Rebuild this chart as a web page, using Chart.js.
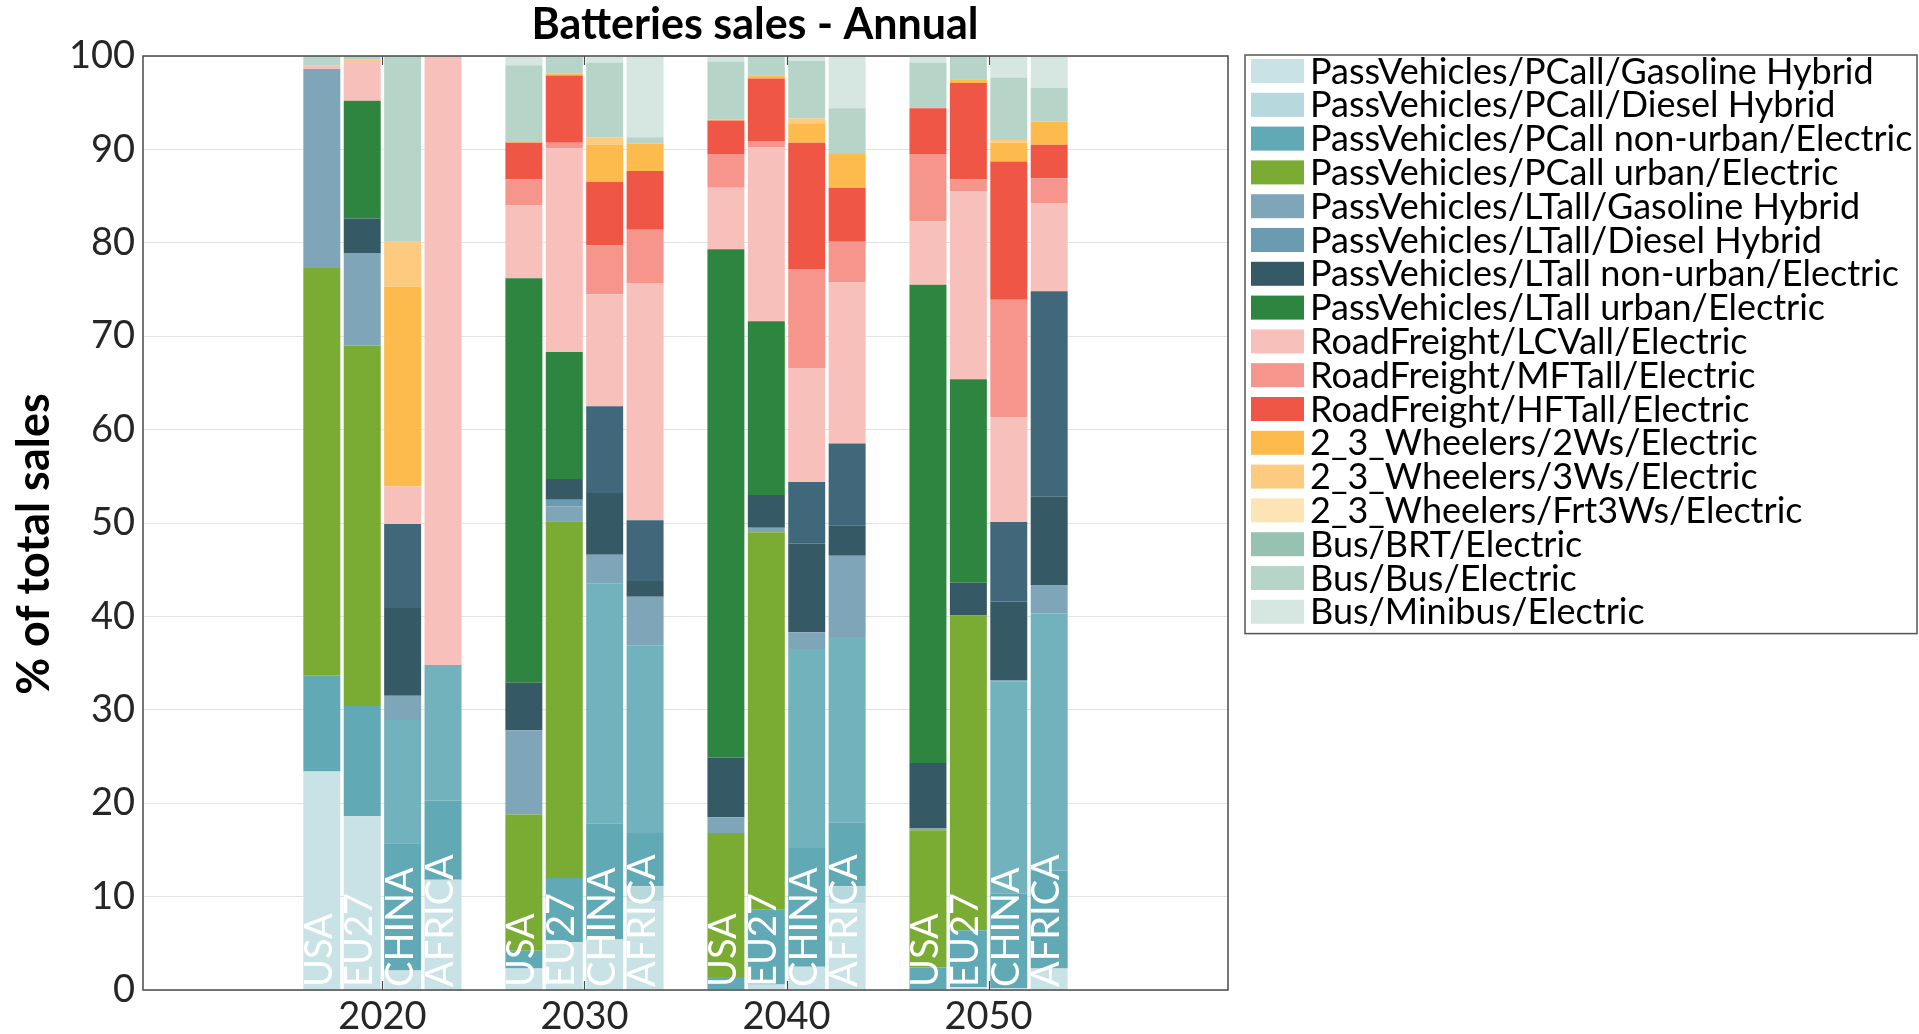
<!DOCTYPE html>
<html>
<head>
<meta charset="utf-8">
<title>Batteries sales - Annual</title>
<script src="https://cdn.jsdelivr.net/npm/chart.js@4.4.1/dist/chart.umd.min.js"></script>
<style>
  html, body { margin: 0; padding: 0; background: #fff; }
  canvas { display: block; }
</style>
</head>
<body>
<canvas id="chart" width="1919" height="1034"></canvas>
<script>
// bars are ordered year by year, region by region
const years = [2020, 2030, 2040, 2050];
const regions = ['USA', 'EU27', 'CHINA', 'AFRICA'];

// share of total battery sales (%), one value per bar
const pcGasolineHybrid = [23.4, 18.6, 2.1, 11.8, 2.3, 5.1, 5.4, 9.5, 0, 0.6, 2.5, 9.3, 0, 0.3, 0.2, 2.3];
const pcDieselHybrid   = [0, 0, 0, 0, 0, 0, 0, 1.6, 0, 0, 0, 1.8, 0, 0, 0, 0];
const pcNonUrbanElec   = [10.3, 11.8, 13.6, 8.5, 1.9, 6.9, 12.4, 5.7, 1.4, 8.0, 12.7, 6.8, 2.4, 6.1, 10.1, 10.5];
const pcOther          = [0, 0, 13.2, 14.5, 0, 0, 25.7, 20.1, 0, 0, 21.3, 19.9, 0, 0, 22.7, 27.5];
const pcUrbanElec      = [43.6, 38.6, 0, 0, 14.6, 38.2, 0, 0, 15.4, 40.4, 0, 0, 14.7, 33.7, 0, 0];
const ltGasolineHybrid = [21.3, 9.9, 2.6, 0, 9.0, 1.6, 3.1, 5.2, 1.7, 0.5, 1.8, 8.7, 0.2, 0, 0.2, 3.0];
const ltDieselHybrid   = [0, 0, 0, 0, 0, 0.7, 0, 0, 0, 0, 0, 0, 0, 0, 0, 0];
const ltNonUrbanElec   = [0, 3.7, 9.4, 0, 5.1, 2.2, 6.6, 1.7, 6.4, 3.5, 9.5, 3.2, 7.0, 3.5, 8.4, 9.5];
const ltOther          = [0, 0, 9.0, 0, 0, 0, 9.3, 6.5, 0, 0, 6.6, 8.8, 0, 0, 8.5, 22.0];
const ltUrbanElec      = [0, 12.6, 0, 0, 43.3, 13.6, 0, 0, 54.4, 18.6, 0, 0, 51.2, 21.8, 0, 0];
const lcvElec          = [0.4, 4.3, 4.0, 65.2, 7.8, 21.8, 12.0, 25.4, 6.6, 18.6, 12.2, 17.3, 6.8, 20.1, 11.2, 9.4];
const mftElec          = [0, 0, 0, 0, 2.8, 0.6, 5.2, 5.7, 3.6, 0.7, 10.6, 4.3, 7.2, 1.3, 12.6, 2.7];
const hftElec          = [0, 0, 0, 0, 3.9, 7.2, 6.8, 6.3, 3.6, 6.7, 13.5, 5.8, 4.9, 10.3, 14.8, 3.6];
const twoWheelElec     = [0, 0.1, 21.4, 0, 0.1, 0.2, 4.0, 2.9, 0.1, 0.3, 2.1, 3.6, 0.1, 0.4, 2.0, 2.5];
const threeWheelElec   = [0, 0, 4.9, 0, 0, 0, 0.8, 0, 0, 0, 0.5, 0, 0, 0, 0.3, 0];
const frt3WheelElec    = [0, 0, 0, 0, 0, 0, 0, 0, 0, 0, 0, 0, 0, 0, 0, 0];
const brtElec          = [0, 0, 0, 0, 0, 0, 0, 0, 0, 0, 0, 0, 0, 0, 0, 0];
const busElec          = [1.0, 0.4, 19.8, 0, 8.2, 1.9, 8.0, 0.7, 6.2, 2.1, 6.2, 4.9, 4.8, 2.5, 6.7, 3.6];
const minibusElec      = [0, 0, 0, 0, 1.0, 0, 0.7, 8.7, 0.6, 0, 0.5, 5.6, 0.7, 0, 2.3, 3.4];

const yTicks = [0, 10, 20, 30, 40, 50, 60, 70, 80, 90, 100];

// stack order, bottom to top
const series = [
  { label: 'PassVehicles/PCall/Gasoline Hybrid', color: '#c9e2e6', values: pcGasolineHybrid, legend: true },
  { label: 'PassVehicles/PCall/Diesel Hybrid', color: '#b7d8dd', values: pcDieselHybrid, legend: true },
  { label: 'PassVehicles/PCall non-urban/Electric', color: '#62a9b6', values: pcNonUrbanElec, legend: true },
  { label: 'PassVehicles/PCall/Other', color: '#72b2bc', values: pcOther, legend: false },
  { label: 'PassVehicles/PCall urban/Electric', color: '#7aab33', values: pcUrbanElec, legend: true },
  { label: 'PassVehicles/LTall/Gasoline Hybrid', color: '#7fa6b8', values: ltGasolineHybrid, legend: true },
  { label: 'PassVehicles/LTall/Diesel Hybrid', color: '#6b9bb0', values: ltDieselHybrid, legend: true },
  { label: 'PassVehicles/LTall non-urban/Electric', color: '#355a66', values: ltNonUrbanElec, legend: true },
  { label: 'PassVehicles/LTall/Other', color: '#41687a', values: ltOther, legend: false },
  { label: 'PassVehicles/LTall urban/Electric', color: '#2e853f', values: ltUrbanElec, legend: true },
  { label: 'RoadFreight/LCVall/Electric', color: '#f8c0ba', values: lcvElec, legend: true },
  { label: 'RoadFreight/MFTall/Electric', color: '#f6958b', values: mftElec, legend: true },
  { label: 'RoadFreight/HFTall/Electric', color: '#f05645', values: hftElec, legend: true },
  { label: '2_3_Wheelers/2Ws/Electric', color: '#fdbb4d', values: twoWheelElec, legend: true },
  { label: '2_3_Wheelers/3Ws/Electric', color: '#fccb80', values: threeWheelElec, legend: true },
  { label: '2_3_Wheelers/Frt3Ws/Electric', color: '#fde4b5', values: frt3WheelElec, legend: true },
  { label: 'Bus/BRT/Electric', color: '#97c1b0', values: brtElec, legend: true },
  { label: 'Bus/Bus/Electric', color: '#b7d4c8', values: busElec, legend: true },
  { label: 'Bus/Minibus/Electric', color: '#d6e7e2', values: minibusElec, legend: true }
];

// x position of each bar: four regions side by side around the year, 2 years apart
const barX = [];
const barRegion = [];
years.forEach(y => regions.forEach((r, j) => {
  barX.push(y + (j - 1.5) * 2);
  barRegion.push(r);
}));

const tickFont = { family: 'Lato', size: 38 };
const tickColor = '#262626';

// plot frame and inward x tick marks
const frame = {
  id: 'frame',
  afterDatasetsDraw(chart) {
    const { ctx, chartArea: a, scales: { x } } = chart;
    ctx.save();
    ctx.strokeStyle = '#4a4a4a';
    ctx.lineWidth = 1.5;
    ctx.strokeRect(a.left, a.top, a.right - a.left, a.bottom - a.top);
    ctx.lineWidth = 1.2;
    ctx.beginPath();
    years.forEach(v => {
      const px = Math.round(x.getPixelForValue(v)) + 0.5;
      ctx.moveTo(px, a.top); ctx.lineTo(px, a.top + 9);
      ctx.moveTo(px, a.bottom); ctx.lineTo(px, a.bottom - 9);
    });
    ctx.stroke();
    ctx.restore();
  }
};

// region names written upward at the foot of each bar
const regionLabels = {
  id: 'regionLabels',
  afterDatasetsDraw(chart) {
    const { ctx, chartArea: a, scales: { x } } = chart;
    ctx.save();
    ctx.fillStyle = '#ffffff';
    ctx.font = '38px Lato';
    ctx.textAlign = 'left';
    ctx.textBaseline = 'alphabetic';
    barX.forEach((v, i) => {
      ctx.save();
      ctx.translate(x.getPixelForValue(v) + 10, a.bottom - 3);
      ctx.rotate(-Math.PI / 2);
      ctx.fillText(barRegion[i], 0, 0);
      ctx.restore();
    });
    ctx.restore();
  }
};

// title, y axis title and the boxed legend
const decorations = {
  id: 'decorations',
  afterDraw(chart) {
    const { ctx, chartArea: a } = chart;
    ctx.save();
    ctx.fillStyle = '#000';
    ctx.font = 'bold 43px Lato';
    ctx.textAlign = 'center';
    ctx.textBaseline = 'middle';
    ctx.fillText('Batteries sales - Annual', 755, 25);

    ctx.save();
    ctx.translate(34, 544);
    ctx.rotate(-Math.PI / 2);
    ctx.font = 'bold 45px Lato';
    ctx.fillText('% of total sales', 0, 0);
    ctx.restore();

    const items = chart.data.datasets.filter(d => d.inLegend);
    const left = a.right + 17, top = a.top - 1, rowH = 33.8;
    const width = chart.width - 2 - left, height = items.length * rowH + 4;
    ctx.fillStyle = '#fff';
    ctx.fillRect(left, top, width, height);
    ctx.strokeStyle = '#555';
    ctx.lineWidth = 1.5;
    ctx.strokeRect(left, top, width, height);
    ctx.font = '36px Lato';
    ctx.textAlign = 'left';
    items.forEach((d, i) => {
      const cy = top + 16 + i * rowH;
      ctx.fillStyle = d.backgroundColor;
      ctx.fillRect(left + 6, cy - 12, 53, 24);
      ctx.fillStyle = '#000';
      ctx.fillText(d.label, left + 65, cy + 1);
    });
    ctx.restore();
  }
};

new Chart(document.getElementById('chart'), {
  type: 'bar',
  data: {
    datasets: series.map(s => ({
      label: s.label,
      data: s.values.map((v, i) => ({ x: barX[i], y: v })),
      backgroundColor: s.color,
      borderWidth: 0,
      categoryPercentage: 1,
      barPercentage: 0.915,
      inLegend: s.legend
    }))
  },
  options: {
    responsive: false,
    animation: false,
    layout: { padding: { left: 0, right: 691, top: 56, bottom: 0 } },
    plugins: {
      legend: { display: false },
      title: { display: false },
      tooltip: { enabled: false }
    },
    scales: {
      x: {
        type: 'linear',
        stacked: true,
        offset: false,
        min: 2008.15,
        max: 2061.85,
        grid: { display: false, drawTicks: false, offset: false },
        border: { display: false },
        ticks: { font: tickFont, color: tickColor, padding: 4, callback: v => String(v) },
        afterBuildTicks: s => { s.ticks = years.map(v => ({ value: v })); },
        afterFit: s => { s.height = 44; }
      },
      y: {
        stacked: true,
        min: 0,
        max: 100,
        grid: { color: '#e2e2e2', lineWidth: 1, drawTicks: false },
        border: { display: false },
        ticks: { font: tickFont, color: tickColor, padding: 8 },
        afterBuildTicks: s => { s.ticks = yTicks.map(v => ({ value: v })); },
        afterFit: s => { s.width = 143; }
      }
    }
  },
  plugins: [frame, regionLabels, decorations]
});
</script>
</body>
</html>
